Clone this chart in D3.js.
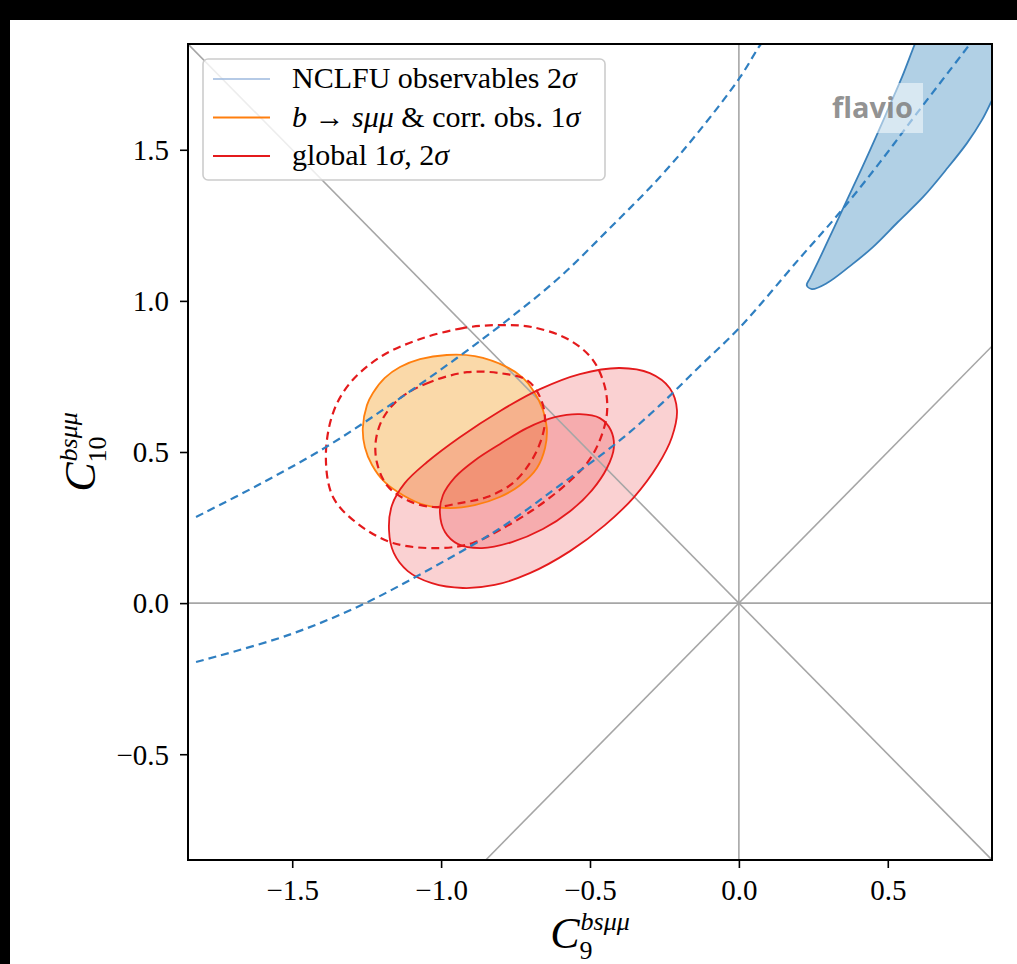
<!DOCTYPE html>
<html>
<head>
<meta charset="utf-8">
<script src="https://cdn.jsdelivr.net/npm/d3@7"></script>
<style>
body { margin: 0; background: #fff; }
svg { display: block; }
.axis text { font-family: "Liberation Serif", serif; font-size: 29px; fill: #000; }
.legend text, .label text { font-family: "Liberation Serif", serif; fill: #000; }
</style>
</head>
<body>
<div id="chart"></div>
<script>
//------------------------1. DATA------------------------//
const xTicks = [-1.5, -1.0, -0.5, 0.0, 0.5];
const yTicks = [-0.5, 0.0, 0.5, 1.0, 1.5];
const xDomain = [-1.85, 0.85];
const yDomain = [-0.85, 1.85];

// straight reference lines through the SM point
const refLines = [
    [[-1.85, 0], [0.85, 0]],
    [[0, -0.85], [0, 1.85]],
    [[-1.85, 1.85], [0.85, -0.85]],
    [[-0.85, -0.85], [0.85, 0.85]]
];

// NCLFU observables 2 sigma (filled, blue) - runs off the top right corner
const nclfuRegion = [
    [0.245, 1.039], [0.296, 1.059], [0.373, 1.115], [0.450, 1.178], [0.534, 1.261],
    [0.618, 1.343], [0.695, 1.433], [0.766, 1.522], [0.816, 1.598], [0.850, 1.664],
    [0.887, 1.737], [0.927, 1.830], [0.977, 1.962], [0.638, 1.962], [0.591, 1.850],
    [0.548, 1.741], [0.504, 1.641], [0.460, 1.542], [0.413, 1.439], [0.366, 1.340],
    [0.319, 1.241], [0.272, 1.142], [0.239, 1.075], [0.228, 1.052]
];
// NCLFU dashed contours
const nclfuDashUpper = [
    [-1.823, 0.285], [-1.608, 0.394], [-1.387, 0.516], [-1.172, 0.655], [-0.947, 0.811],
    [-0.769, 0.943], [-0.601, 1.079], [-0.433, 1.241], [-0.265, 1.410], [-0.131, 1.565],
    [0.004, 1.740], [0.064, 1.836], [0.074, 1.850]
];
const nclfuDashLower = [
    [-1.823, -0.195], [-1.514, -0.106], [-1.269, -0.007], [-1.037, 0.113], [-0.802, 0.248],
    [-0.601, 0.390], [-0.399, 0.539], [-0.265, 0.655], [-0.131, 0.784], [0.004, 0.913],
    [0.205, 1.142], [0.340, 1.294], [0.474, 1.459], [0.598, 1.621], [0.766, 1.837],
    [0.776, 1.850]
];

// b -> s mu mu & correlated observables 1 sigma (orange)
const bsmmOneSigma = [
    [-1.263, 0.579], [-1.249, 0.655], [-1.229, 0.695], [-1.189, 0.745], [-1.138, 0.781],
    [-1.071, 0.807], [-0.981, 0.821], [-0.887, 0.817], [-0.779, 0.781], [-0.725, 0.745],
    [-0.692, 0.705], [-0.658, 0.639], [-0.645, 0.579], [-0.651, 0.513], [-0.678, 0.447],
    [-0.735, 0.390], [-0.803, 0.351], [-0.887, 0.324], [-0.970, 0.314], [-1.054, 0.324],
    [-1.128, 0.357], [-1.189, 0.400], [-1.232, 0.457], [-1.256, 0.516]
];

// red dashed contours
const redDashInner = [
    [-0.913, 0.764], [-1.038, 0.731], [-1.138, 0.678], [-1.195, 0.612], [-1.219, 0.539],
    [-1.216, 0.467], [-1.182, 0.390], [-1.115, 0.341], [-1.028, 0.318], [-0.937, 0.331],
    [-0.846, 0.351], [-0.759, 0.397], [-0.702, 0.463], [-0.668, 0.529], [-0.651, 0.606],
    [-0.668, 0.682], [-0.712, 0.738], [-0.803, 0.761]
];
const redDashOuter = [
    [-0.803, 0.920], [-0.927, 0.910], [-1.081, 0.870], [-1.205, 0.814], [-1.306, 0.728],
    [-1.363, 0.629], [-1.387, 0.483], [-1.363, 0.351], [-1.283, 0.265], [-1.162, 0.199],
    [-1.004, 0.182], [-0.893, 0.199], [-0.803, 0.242], [-0.692, 0.308], [-0.591, 0.384],
    [-0.510, 0.463], [-0.467, 0.539], [-0.443, 0.629], [-0.450, 0.715], [-0.490, 0.804],
    [-0.568, 0.870], [-0.692, 0.913]
];

// global fit 1 sigma and 2 sigma (red)
const globalTwoSigma = [
    [-1.175, 0.242], [-1.165, 0.324], [-1.122, 0.397], [-1.048, 0.466], [-0.937, 0.549],
    [-0.803, 0.635], [-0.668, 0.708], [-0.534, 0.758], [-0.400, 0.778], [-0.299, 0.761],
    [-0.232, 0.711], [-0.208, 0.639], [-0.225, 0.549], [-0.272, 0.457], [-0.352, 0.351],
    [-0.450, 0.258], [-0.567, 0.172], [-0.702, 0.099], [-0.820, 0.060], [-0.927, 0.050],
    [-1.031, 0.066], [-1.112, 0.106], [-1.159, 0.166]
];
const globalOneSigma = [
    [-1.004, 0.298], [-0.994, 0.357], [-0.953, 0.417], [-0.886, 0.473], [-0.803, 0.526],
    [-0.712, 0.579], [-0.618, 0.615], [-0.534, 0.625], [-0.467, 0.612], [-0.430, 0.572],
    [-0.420, 0.513], [-0.443, 0.447], [-0.493, 0.374], [-0.567, 0.304], [-0.658, 0.245],
    [-0.762, 0.202], [-0.863, 0.182], [-0.943, 0.195], [-0.987, 0.235]
];

const legendLabels = ["NCLFU", "bsmm", "global"];
const legendColors = ["#9db9de", "#ff7f0e", "#e41a1c"];

//--------------------2. PREPARATION---------------------//
const width = 1017;
const height = 964;
const plot = {left: 188, right: 992, top: 44, bottom: 860};

const svg = d3.select("#chart").append("svg")
    .attr("width", width)
    .attr("height", height);

// dark strip of the screenshot
svg.append("rect").attr("x", 0).attr("y", 0).attr("width", width).attr("height", 20).attr("fill", "#000");
svg.append("rect").attr("x", 0).attr("y", 0).attr("width", 10).attr("height", height).attr("fill", "#000");

const xScale = d3.scaleLinear().domain(xDomain).range([plot.left, plot.right]);
const yScale = d3.scaleLinear().domain(yDomain).range([plot.bottom, plot.top]);

svg.append("clipPath").attr("id", "clip")
    .append("rect")
    .attr("x", plot.left).attr("y", plot.top)
    .attr("width", plot.right - plot.left).attr("height", plot.bottom - plot.top);

const closed = d3.line()
    .x(d => xScale(d[0])).y(d => yScale(d[1]))
    .curve(d3.curveCatmullRomClosed.alpha(0.5));
const open = d3.line()
    .x(d => xScale(d[0])).y(d => yScale(d[1]))
    .curve(d3.curveCatmullRom.alpha(0.5));
const straight = d3.line()
    .x(d => xScale(d[0])).y(d => yScale(d[1]));

//---------------------3. DRAWING------------------------//
const g = svg.append("g").attr("clip-path", "url(#clip)");

// filled regions
g.append("path").attr("d", closed(nclfuRegion))
    .attr("fill", "rgba(31,119,180,0.35)").attr("stroke", "#3a80ba").attr("stroke-width", 1.8);
g.append("path").attr("d", closed(bsmmOneSigma))
    .attr("fill", "rgba(242,155,30,0.38)").attr("stroke", "none");
g.append("path").attr("d", closed(globalTwoSigma))
    .attr("fill", "rgba(228,26,28,0.2)").attr("stroke", "none");
g.append("path").attr("d", closed(globalOneSigma))
    .attr("fill", "rgba(228,26,28,0.2)").attr("stroke", "none");

// reference lines
g.selectAll(".ref")
    .data(refLines)
    .enter().append("path")
    .attr("class", "ref")
    .attr("d", straight)
    .attr("fill", "none").attr("stroke", "#a6a6a6").attr("stroke-width", 1.6);

// contour outlines
g.append("path").attr("d", closed(bsmmOneSigma))
    .attr("fill", "none").attr("stroke", "#ff7f0e").attr("stroke-width", 1.8);
g.append("path").attr("d", closed(globalTwoSigma))
    .attr("fill", "none").attr("stroke", "#e41a1c").attr("stroke-width", 1.8);
g.append("path").attr("d", closed(globalOneSigma))
    .attr("fill", "none").attr("stroke", "#e41a1c").attr("stroke-width", 1.8);

[redDashInner, redDashOuter].forEach(function(c) {
    g.append("path").attr("d", closed(c))
        .attr("fill", "none").attr("stroke", "#e41a1c").attr("stroke-width", 2.2)
        .attr("stroke-dasharray", "8,5");
});
[nclfuDashUpper, nclfuDashLower].forEach(function(c) {
    g.append("path").attr("d", open(c))
        .attr("fill", "none").attr("stroke", "#2f7fc1").attr("stroke-width", 2.2)
        .attr("stroke-dasharray", "8,5");
});

// flavio branding
svg.append("rect")
    .attr("x", 826).attr("y", 83).attr("width", 97).attr("height", 50)
    .attr("fill", "#fff").attr("opacity", 0.5);
svg.append("text")
    .attr("x", 832).attr("y", 118)
    .style("font-family", "'Open Sans', sans-serif")
    .style("font-weight", "bold")
    .style("font-size", "29px")
    .attr("fill", "#7f7f7f").attr("fill-opacity", 0.85)
    .text("flavio");

//-----------------------AXES----------------------------//
const fmt = d3.format(".1f");
const xAxis = d3.axisBottom(xScale).tickValues(xTicks).tickFormat(fmt).tickSize(8).tickPadding(11);
const yAxis = d3.axisLeft(yScale).tickValues(yTicks).tickFormat(fmt).tickSize(8).tickPadding(11);

const gx = svg.append("g").attr("class", "axis")
    .attr("transform", "translate(0," + plot.bottom + ")")
    .call(xAxis);
const gy = svg.append("g").attr("class", "axis")
    .attr("transform", "translate(" + plot.left + ",0)")
    .call(yAxis);
[gx, gy].forEach(function(a) {
    a.select(".domain").remove();
    a.selectAll(".tick line").attr("stroke", "#000").attr("stroke-width", 1.6);
});
gy.selectAll(".tick text").attr("dy", "0.34em");

// frame
svg.append("rect")
    .attr("x", plot.left).attr("y", plot.top)
    .attr("width", plot.right - plot.left).attr("height", plot.bottom - plot.top)
    .attr("fill", "none").attr("stroke", "#000").attr("stroke-width", 2);

//----------------------LABELS---------------------------//
function wilsonLabel(parent, sub) {
    const lab = parent.append("g").attr("class", "label");
    const c = lab.append("text").attr("x", 0).attr("y", 0)
        .style("font-size", "44px").style("font-style", "italic").text("C");
    const cw = c.node().getComputedTextLength();
    const sp = lab.append("text").attr("x", cw + 1).attr("y", -18)
        .style("font-size", "26px").style("font-style", "italic").text("bsμμ");
    const sb = lab.append("text").attr("x", cw).attr("y", 11)
        .style("font-size", "26px").text(sub);
    const total = cw + Math.max(sp.node().getComputedTextLength() + 1, sb.node().getComputedTextLength());
    return total;
}

const xl = svg.append("g");
const xw = wilsonLabel(xl, "9");
xl.attr("transform", "translate(" + ((plot.left + plot.right) / 2 - xw / 2) + ",948)");

const yl = svg.append("g");
const yw = wilsonLabel(yl, "10");
yl.attr("transform", "translate(95," + ((plot.top + plot.bottom) / 2 + yw / 2) + ") rotate(-90)");

//----------------------LEGEND---------------------------//
const legend = svg.append("g").attr("class", "legend");
legend.append("rect")
    .attr("x", 203).attr("y", 59).attr("width", 402).attr("height", 121)
    .attr("rx", 5).attr("ry", 5)
    .attr("fill", "#fff").attr("fill-opacity", 0.8)
    .attr("stroke", "#cccccc").attr("stroke-width", 1.6);

const rows = legend.selectAll(".row")
    .data(legendLabels)
    .enter().append("g")
    .attr("class", "row")
    .attr("transform", (d, i) => "translate(0," + (79 + i * 38.5) + ")");

rows.append("line")
    .attr("x1", 213).attr("x2", 270).attr("y1", 0).attr("y2", 0)
    .attr("stroke", (d, i) => legendColors[i])
    .attr("stroke-width", (d, i) => i === 0 ? 1.4 : 1.8);

const lt = rows.append("text").attr("x", 292).attr("y", 9).style("font-size", "30px");
function seg(t, s, it) { t.append("tspan").style("font-style", it ? "italic" : "normal").text(s); }
lt.each(function(d) {
    const t = d3.select(this);
    if (d === "NCLFU") {
        seg(t, "NCLFU observables 2", false); seg(t, "σ", true);
    } else if (d === "bsmm") {
        seg(t, "b", true); seg(t, " → ", false); seg(t, "sμμ", true);
        seg(t, " & corr. obs. 1", false); seg(t, "σ", true);
    } else {
        seg(t, "global 1", false); seg(t, "σ", true); seg(t, ", 2", false); seg(t, "σ", true);
    }
});
</script>
</body>
</html>
